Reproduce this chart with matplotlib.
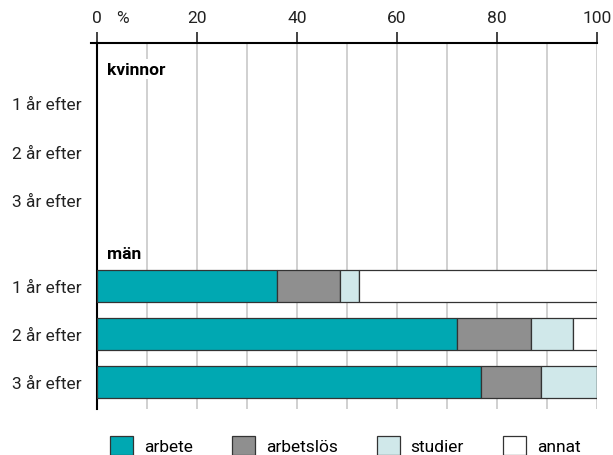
import matplotlib
matplotlib.use("Agg")
import matplotlib.pyplot as plt
from matplotlib.patches import Patch

plt.rcParams['font.family'] = ['Roboto', 'DejaVu Sans']
plt.rcParams['font.size'] = 12.5

# data (percent)
row_labels = ['1 år efter', '2 år efter', '3 år efter']
categories = ['arbete', 'arbetslös', 'studier', 'annat']
colors = ['#00a8b2', '#8f8f8f', '#d0e8ea', '#ffffff']

kvinnor = {
    'arbete':    [0, 0, 0],
    'arbetslös': [0, 0, 0],
    'studier':   [0, 0, 0],
    'annat':     [0, 0, 0],
}
man = {
    'arbete':    [35.9, 71.9, 76.7],
    'arbetslös': [12.6, 14.8, 12.0],
    'studier':   [3.8, 8.4, 11.3],
    'annat':     [47.7, 4.9, 0.0],
}

pos_k = [0, 1, 2]
pos_m = [3.77, 4.76, 5.75]

fig = plt.figure(figsize=(6.13, 4.56), dpi=100)
ax = fig.add_axes([97 / 613, 1 - 410 / 456, 500 / 613, 366 / 456])

for group, pos in [(kvinnor, pos_k), (man, pos_m)]:
    left = [0, 0, 0]
    for cat, col in zip(categories, colors):
        vals = group[cat]
        if sum(vals) > 0:
            ax.barh(pos, vals, left=left, height=0.66, color=col,
                    edgecolor='#333333', linewidth=0.9, zorder=3)
        left = [l + v for l, v in zip(left, vals)]

ax.set_xlim(0, 100)
ax.set_ylim(6.3, -1.24)

ax.set_yticks(pos_k + pos_m)
ax.set_yticklabels(row_labels + row_labels, color='#222222')
ax.tick_params(axis='y', length=0, pad=11)

ax.xaxis.tick_top()
ax.set_xticks([0, 20, 40, 60, 80, 100])
ax.set_xticklabels(['0', '20', '40', '60', '80', '100'], color='#222222')
ax.tick_params(axis='x', direction='out', length=8, width=1.2, pad=5, colors='#222222')
ax.set_xticks(range(0, 101, 10), minor=True)
ax.tick_params(axis='x', which='minor', length=0)
# percent sign next to the zero label
ax.annotate('%', xy=(0, 1), xycoords='axes fraction', xytext=(14, 13),
            textcoords='offset points', ha='left', va='bottom', color='#222222')

ax.grid(axis='x', which='both', color='#c8c8c8', linewidth=1.2, zorder=0)

for s in ['right', 'bottom']:
    ax.spines[s].set_visible(False)
ax.spines['left'].set_linewidth(1.5)
ax.spines['top'].set_linewidth(1.5)
ax.plot([-0.012, 0], [1, 1], transform=ax.transAxes, color='black',
        linewidth=1.5, clip_on=False)

for txt, y in [('kvinnor', -0.7), ('män', 3.1)]:
    ax.text(2, y, txt, fontweight='bold', va='center', ha='left', zorder=4,
            bbox=dict(facecolor='white', edgecolor='none', pad=2))

handles = [Patch(facecolor=c, edgecolor='#333333', linewidth=0.9) for c in colors]
fig.legend(handles, categories, ncol=4, loc='upper left',
           bbox_to_anchor=(110 / 613, 1 - 437 / 456), frameon=False,
           borderpad=0, borderaxespad=0, handlelength=1.32, handleheight=1.32,
           columnspacing=2.25, handletextpad=0.63)

fig.savefig('out.png', dpi=100)
